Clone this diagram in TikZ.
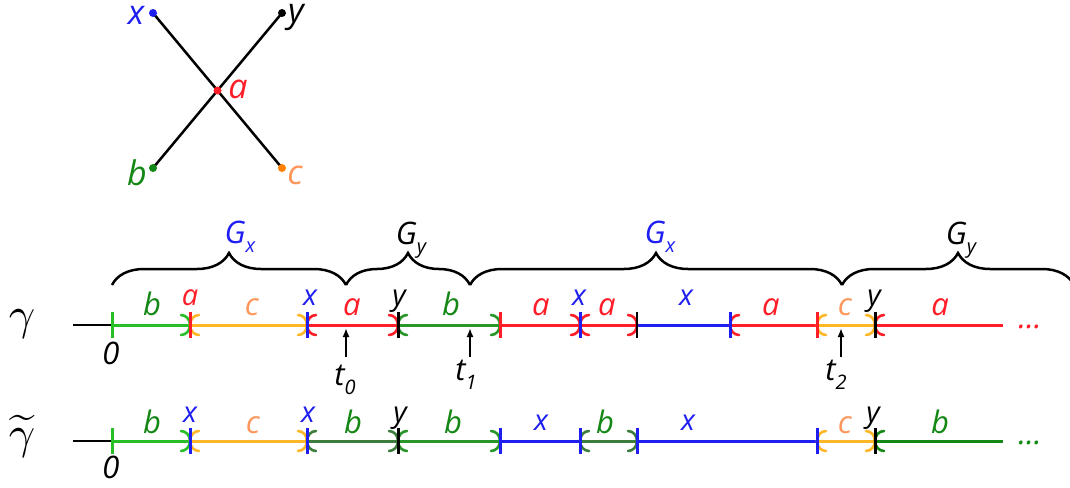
\documentclass[tikz,border=0pt]{standalone}
\usepackage{fontspec}
\setmainfont{Open Sans}
\usetikzlibrary{arrows.meta,decorations.pathreplacing}
\definecolor{cred}{RGB}{255,30,40}
\definecolor{corange}{RGB}{255,183,40}
\definecolor{csalmon}{RGB}{255,150,90}
\definecolor{cblue}{RGB}{30,30,240}
\definecolor{cgreenA}{RGB}{40,190,40}
\definecolor{cgreenB}{RGB}{40,150,40}
\definecolor{cgreenC}{RGB}{60,125,60}
\definecolor{cgreenL}{RGB}{20,135,20}
\tikzset{
  seg/.style={line width=3pt},
  thin line/.style={line width=1.5pt, black},
  tickmark/.style={line width=3pt},
  rarc/.pic={\draw[line width=2.6pt, line cap=round, pic actions] (-9,-10) .. controls (-4,-10) and (0,-5.5) .. (0,0) .. controls (0,5.5) and (-4,10) .. (-9,10);},
  larc/.pic={\draw[line width=2.6pt, line cap=round, pic actions] (9,-10) .. controls (4,-10) and (0,-5.5) .. (0,0) .. controls (0,5.5) and (4,10) .. (9,10);},
  big/.style={font=\fontsize{31}{33}\selectfont\itshape, inner sep=0pt, anchor=base},
  small/.style={font=\fontsize{29}{31}\selectfont\itshape, inner sep=0pt, anchor=base},
  toplab/.style={font=\fontsize{34}{36}\selectfont\itshape, inner sep=0pt},
  glab/.style={font=\fontsize{31}{33}\selectfont\itshape, inner sep=0pt, anchor=base},
  vdot/.style={circle, inner sep=0pt, minimum size=8pt},
  bracestyle/.style={decorate, decoration={brace, amplitude=32pt}, line width=2.5pt},
  tarrow/.style={-{Latex[length=9pt,width=7pt]}, line width=2pt},
}
\newcommand{\gsub}[2]{#1\raisebox{-0.3em}{\fontsize{20}{22}\selectfont #2}}
\begin{document}
\begin{tikzpicture}[x=1pt,y=-1pt]
\useasboundingbox (0,0) rectangle (1070,487);
% ---------- top star ----------
\coordinate (px) at (153,13);
\coordinate (py) at (282,13);
\coordinate (pa) at (217.5,90.5);
\coordinate (pb) at (153,168);
\coordinate (pc) at (282,168);
\draw[line width=2.5pt] (px) -- (pc);
\draw[line width=2.5pt] (py) -- (pb);
\node[vdot, fill=cblue] (dx) at (px) {};
\node[vdot, fill=black] (dy) at (py) {};
\node[vdot, fill=cred] (da) at (pa) {};
\node[vdot, fill=cgreenL] (db) at (pb) {};
\node[vdot, fill=orange] (dc) at (pc) {};
\node[toplab, cblue] (tx) at (136,15) {x};
\node[toplab, black] (ty) at (296,17) {y};
\node[toplab, cred] (ta) at (238,89) {a};
\node[toplab, cgreenL] (tb) at (137,173) {b};
\node[toplab, csalmon] (tc) at (295,175) {c};
% ---------- gammas ----------
\node[inner sep=0pt, anchor=base] (g1) at (22,329) {\scalebox{4.6}{$\gamma$}};
\node[inner sep=0pt, anchor=base] (g2) at (22,448) {\scalebox{4.6}{$\widetilde{\gamma}$}};
% ---------- line 1 coordinates ----------
\coordinate (AS) at (73,325);
\coordinate (A0) at (112,325);
\coordinate (A1) at (190,325);
\coordinate (A2) at (307,325);
\coordinate (A3) at (398,325);
\coordinate (A4) at (500,325);
\coordinate (A5) at (580,325);
\coordinate (A6) at (637,325);
\coordinate (A7) at (730,325);
\coordinate (A8) at (817,325);
\coordinate (A9) at (875,325);
\coordinate (AE) at (1003,325);
\draw[thin line] (AS) -- (A0);
\draw[seg, cgreenA] (A0) -- (A1);
\draw[seg, corange] (A1) -- (A2);
\draw[seg, cred] (A2) -- (A3);
\draw[seg, cgreenB] (A3) -- (A4);
\draw[seg, cred] (A4) -- (A5);
\draw[seg, cred] (A5) -- (A6);
\draw[seg, cblue] (A6) -- (A7);
\draw[seg, cred] (A7) -- (A8);
\draw[seg, corange] (A8) -- (A9);
\draw[seg, cred] (A9) -- (AE);
% arrow arcs line 1
\pic[cgreenA] at (A1) {rarc};
\pic[corange] at (A1) {larc};
\pic[corange] at (A2) {rarc};
\pic[cred] at (A2) {larc};
\pic[cred] at (A3) {rarc};
\pic[cgreenB] at (A3) {larc};
\pic[cgreenB] at (A4) {rarc};
\pic[cred] at (A5) {rarc};
\pic[cred] at (A5) {larc};
\pic[cred] at (A6) {rarc};
\pic[cred] at (A7) {larc};
\pic[corange] at (A8) {larc};
\pic[corange] at (A9) {rarc};
\pic[cred] at (A9) {larc};
\draw[tickmark, cgreenA] (A0) ++(0,-13) -- ++(0,26);
\draw[tickmark, cred] (A1) ++(0,-13) -- ++(0,26);
\draw[tickmark, cblue] (A2) ++(0,-13) -- ++(0,26);
\draw[tickmark, black] (A3) ++(0,-13) -- ++(0,26);
\draw[tickmark, cred] (A4) ++(0,-13) -- ++(0,26);
\draw[tickmark, cblue] (A5) ++(0,-13) -- ++(0,26);
\draw[line width=1.5pt, black] (A6) ++(0,-13) -- ++(0,26);
\draw[tickmark, cblue] (A7) ++(0,-13) -- ++(0,26);
\draw[tickmark, cred] (A8) ++(0,-13) -- ++(0,26);
\draw[tickmark, black] (A9) ++(0,-13) -- ++(0,26);
\node[big, cred] (dots1) at (1030,328) {...};
% line 1 labels
\node[small, cred] (l1a) at (190,305) {a};
\node[small, cblue] (l1b) at (310,305) {x};
\node[small, black] (l1c) at (399,305) {y};
\node[small, cblue] (l1d) at (579,305) {x};
\node[small, black] (l1e) at (874,305) {y};
\node[big, cgreenL] (s1a) at (152,315) {b};
\node[big, csalmon] (s1b) at (252,315) {c};
\node[big, cred] (s1c) at (352,315) {a};
\node[big, cgreenL] (s1d) at (451,315) {b};
\node[big, cred] (s1e) at (541,315) {a};
\node[big, cred] (s1f) at (607,315) {a};
\node[small, cblue] (s1g) at (686,305) {x};
\node[big, cred] (s1h) at (771,315) {a};
\node[big, csalmon] (s1i) at (845,315) {c};
\node[big, cred] (s1j) at (940,315) {a};
\node[big, black] (z1) at (111,364) {0};
% t arrows
\coordinate (t0s) at (346,357);
\coordinate (t0e) at (346,328);
\coordinate (t1s) at (470,357);
\coordinate (t1e) at (470,328);
\coordinate (t2s) at (841,357);
\coordinate (t2e) at (841,328);
\draw[tarrow] (t0s) -- (t0e);
\draw[tarrow] (t1s) -- (t1e);
\draw[tarrow] (t2s) -- (t2e);
\node[big, black] (lt0) at (345,385) {\gsub{t}{0}};
\node[big, black] (lt1) at (466,380) {\gsub{t}{1}};
\node[big, black] (lt2) at (836,380) {\gsub{t}{2}};
% ---------- braces ----------
\coordinate (br0) at (112,285);
\coordinate (br1) at (346,285);
\coordinate (br2) at (470,285);
\coordinate (br3) at (842,285);
\coordinate (br4) at (1074,285);
\draw[bracestyle] (br0) -- (br1);
\draw[bracestyle] (br1) -- (br2);
\draw[bracestyle] (br2) -- (br3);
\draw[bracestyle] (br3) -- (br4);
\node[glab, cblue] (G1) at (240,243) {\gsub{G}{x}};
\node[glab, black] (G2) at (411,244) {\gsub{G}{y}};
\node[glab, cblue] (G3) at (660,243) {\gsub{G}{x}};
\node[glab, black] (G4) at (961,244) {\gsub{G}{y}};
% ---------- line 2 ----------
\coordinate (BS) at (73,441);
\coordinate (B0) at (112,441);
\coordinate (B1) at (190,441);
\coordinate (B2) at (307,441);
\coordinate (B3) at (398,441);
\coordinate (B4) at (500,441);
\coordinate (B5) at (580,441);
\coordinate (B6) at (637,441);
\coordinate (B8) at (817,441);
\coordinate (B9) at (875,441);
\coordinate (BE) at (1003,441);
\draw[thin line] (BS) -- (B0);
\draw[seg, cgreenA] (B0) -- (B1);
\draw[seg, corange] (B1) -- (B2);
\draw[seg, cgreenC] (B2) -- (B3);
\draw[seg, cgreenB] (B3) -- (B4);
\draw[seg, cblue] (B4) -- (B5);
\draw[seg, cgreenC] (B5) -- (B6);
\draw[seg, cblue] (B6) -- (B8);
\draw[seg, corange] (B8) -- (B9);
\draw[seg, cgreenL] (B9) -- (BE);
% arrow arcs line 2
\pic[cgreenA] at (B1) {rarc};
\pic[corange] at (B1) {larc};
\pic[corange] at (B2) {rarc};
\pic[cgreenC] at (B2) {larc};
\pic[cgreenC] at (B3) {rarc};
\pic[cgreenB] at (B3) {larc};
\pic[cgreenB] at (B4) {rarc};
\pic[cgreenC] at (B5) {larc};
\pic[cgreenC] at (B6) {rarc};
\pic[corange] at (B8) {larc};
\pic[corange] at (B9) {rarc};
\pic[cgreenL] at (B9) {larc};
\draw[tickmark, cgreenA] (B0) ++(0,-13) -- ++(0,26);
\draw[tickmark, cblue] (B1) ++(0,-13) -- ++(0,26);
\draw[tickmark, cblue] (B2) ++(0,-13) -- ++(0,26);
\draw[tickmark, black] (B3) ++(0,-13) -- ++(0,26);
\draw[tickmark, cblue] (B4) ++(0,-13) -- ++(0,26);
\draw[tickmark, cblue] (B5) ++(0,-13) -- ++(0,26);
\draw[tickmark, cblue] (B6) ++(0,-13) -- ++(0,26);
\draw[tickmark, cblue] (B8) ++(0,-13) -- ++(0,26);
\draw[tickmark, black] (B9) ++(0,-13) -- ++(0,26);
\node[big, cgreenL] (dots2) at (1030,444) {...};
\node[small, cblue] (l2a) at (190,422) {x};
\node[small, cblue] (l2b) at (308,422) {x};
\node[small, black] (l2c) at (400,422) {y};
\node[small, black] (l2d) at (873,422) {y};
\node[big, cgreenL] (s2a) at (152,433) {b};
\node[big, csalmon] (s2b) at (253,433) {c};
\node[big, cgreenL] (s2c) at (353,433) {b};
\node[big, cgreenL] (s2d) at (453,433) {b};
\node[small, cblue] (s2e) at (541,430) {x};
\node[big, cgreenL] (s2f) at (605,433) {b};
\node[small, cblue] (s2g) at (688,430) {x};
\node[big, csalmon] (s2h) at (845,433) {c};
\node[big, cgreenL] (s2i) at (940,433) {b};
\node[big, black] (z2) at (111,478) {0};
\end{tikzpicture}
\end{document}
